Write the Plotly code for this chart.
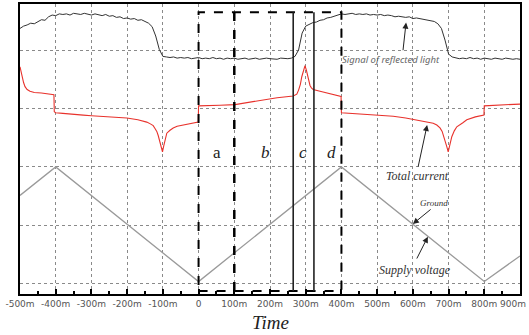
import plotly.graph_objects as go

# ---------------- data ----------------
tick_vals = [-500, -400, -300, -200, -100, 0, 100, 200, 300, 400, 500, 600, 700, 800, 900]
tick_text = ["-500m", "-400m", "-300m", "-200m", "-100m", "0", "100m", "200m", "300m",
             "400m", "500m", "600m", "700m", "800m", "900m"]

signal_x = list(range(-500, 910, 10))
signal_y = [4.38, 4.42, 4.44, 4.47, 4.46, 4.50, 4.53, 4.52, 4.58, 4.61,
            4.60, 4.63, 4.62, 4.63, 4.61, 4.64, 4.63, 4.62, 4.64, 4.63,
            4.61, 4.63, 4.62, 4.60, 4.62, 4.59, 4.60, 4.57, 4.58, 4.55,
            4.56, 4.54, 4.55, 4.52, 4.53, 4.50, 4.47, 4.41, 4.25, 4.02,
            3.90, 3.89, 3.88, 3.89, 3.87, 3.88, 3.87, 3.88, 3.86, 3.87,
            3.88, 3.86, 3.87, 3.86, 3.88, 3.86, 3.87, 3.85, 3.87, 3.86,
            3.87, 3.85, 3.86, 3.87, 3.85, 3.86, 3.87, 3.85, 3.86, 3.87,
            3.86, 3.86, 3.85, 3.87, 3.86, 3.86, 3.87, 3.90, 4.01, 4.30,
            4.42, 4.45, 4.48, 4.49, 4.52, 4.53, 4.56, 4.57, 4.59, 4.61,
            4.63, 4.62, 4.63, 4.64, 4.62, 4.63, 4.62, 4.63, 4.61, 4.62,
            4.61, 4.62, 4.60, 4.61, 4.60, 4.58, 4.59, 4.58, 4.57, 4.58,
            4.55, 4.56, 4.55, 4.54, 4.53, 4.52, 4.50, 4.46, 4.38, 4.18,
            3.94, 3.89, 3.88, 3.86, 3.87, 3.86, 3.88, 3.86, 3.87, 3.85,
            3.87, 3.86, 3.85, 3.87, 3.86, 3.85, 3.87, 3.86, 3.85, 3.86,
            3.85]

current_x = [-500, -495, -490, -486, -480, -472, -460, -440, -420, -405, -404, -400, -380, -350,
             -323, -300, -250, -201, -170, -145, -135, -127, -122, -117, -113, -110, -107, -104,
             -101, -98, -94, -89, -80, -71, -60, -43, -25, -5, -1, 0, 30, 60, 102, 140, 172, 220,
             265, 275, 280, 285, 289, 294, 298, 302, 305, 308, 312, 316, 321, 340, 359, 380, 394,
             399, 400, 430, 452, 500, 545, 580, 620, 640, 657, 667, 676, 682, 687, 691, 695, 699,
             703, 709, 716, 723, 740, 751, 775, 796, 799, 800, 850, 900]
current_y = [3.72, 3.55, 3.45, 3.38, 3.33, 3.30, 3.28, 3.27, 3.25, 3.24, 2.95, 2.93, 2.92, 2.91,
             2.89, 2.88, 2.86, 2.84, 2.81, 2.77, 2.74, 2.71, 2.66, 2.61, 2.54, 2.47, 2.40, 2.33,
             2.26, 2.35, 2.48, 2.58, 2.63, 2.67, 2.70, 2.72, 2.75, 2.77, 2.77, 3.05, 3.06, 3.06,
             3.07, 3.11, 3.15, 3.19, 3.22, 3.25, 3.32, 3.42, 3.55, 3.66, 3.74, 3.66, 3.58, 3.47,
             3.40, 3.36, 3.33, 3.30, 3.27, 3.24, 3.21, 3.21, 2.93, 2.92, 2.91, 2.89, 2.87, 2.84,
             2.80, 2.78, 2.75, 2.72, 2.67, 2.61, 2.52, 2.43, 2.35, 2.26, 2.38, 2.52, 2.62, 2.69,
             2.76, 2.81, 2.86, 2.89, 2.89, 3.05, 3.07, 3.08]

voltage_x = [-500, -400, 0, 400, 800, 900]
voltage_y = [1.51, 2.0, 0.03, 2.0, 0.03, 0.47]

region_edges = [0, 100, 265, 323, 400]
region_labels = ["a", "b", "c", "d"]
region_label_x = [52, 188, 292, 373]

# ---------------- figure ----------------
fig = go.Figure()
fig.add_trace(go.Scatter(x=voltage_x, y=voltage_y, mode="lines",
                         line=dict(color="#9a9a9a", width=1.3), hoverinfo="skip"))
fig.add_trace(go.Scatter(x=current_x, y=current_y, mode="lines",
                         line=dict(color="#e8322c", width=1.1), hoverinfo="skip"))
fig.add_trace(go.Scatter(x=signal_x, y=signal_y, mode="lines",
                         line=dict(color="#333333", width=1), hoverinfo="skip"))

y_top, y_bot = 4.657, -0.132
fig.add_shape(type="rect", x0=region_edges[0], x1=region_edges[-1], y0=y_bot, y1=y_top,
              line=dict(color="black", width=2, dash="dash"))
fig.add_shape(type="line", x0=region_edges[1], x1=region_edges[1], y0=y_bot, y1=y_top,
              line=dict(color="black", width=2.5, dash="dash"))
for xe in region_edges[2:4]:
    fig.add_shape(type="line", x0=xe, x1=xe, y0=y_bot, y1=y_top,
                  line=dict(color="#222222", width=1.6))

serif = "Liberation Serif"
for lbl, lx in zip(region_labels, region_label_x):
    txt = lbl if lbl == "a" else "<i>" + lbl + "</i>"
    fig.add_annotation(x=lx, y=2.24, text=txt, showarrow=False,
                       font=dict(family=serif, size=17, color="#222"))

fig.add_annotation(x=540, y=3.84, text="<i>Signal of reflected light</i>", showarrow=False,
                   font=dict(family="Noto Sans", size=9.5, color="#666"))
fig.add_annotation(x=613, y=1.845, text="<i>Total current</i>", showarrow=False,
                   font=dict(family=serif, size=12, color="#333"))
fig.add_annotation(x=659, y=1.38, text="<i>Ground</i>", showarrow=False,
                   font=dict(family=serif, size=9, color="#333"))
fig.add_annotation(x=607, y=0.23, text="<i>Supply voltage</i>", showarrow=False,
                   font=dict(family=serif, size=12, color="#333"))

arrows = [(581, 4.48, 572, 3.98), (640, 2.72, 614, 1.98),
          (600, 1.02, 654, 1.29), (642, 0.80, 609, 0.40)]
for hx, hy, tx, ty in arrows:
    fig.add_annotation(x=hx, y=hy, ax=tx, ay=ty, xref="x", yref="y", axref="x", ayref="y",
                       text="", showarrow=True, arrowhead=2, arrowsize=1.2,
                       arrowwidth=1, arrowcolor="#222")

tick_font = dict(family="DejaVu Sans", size=9, color="#555")
# last tick label sits against the right edge of the page (plotly would hide it)
fig.add_annotation(x=1.016, y=-0.0345, xref="paper", yref="paper", text=tick_text[-1],
                   showarrow=False, xanchor="right", yanchor="middle", font=tick_font)

fig.add_annotation(x=0.5, y=-0.097, xref="paper", yref="paper", text="<i>Time</i>",
                   showarrow=False, yanchor="middle",
                   font=dict(family=serif, size=19, color="#222"))

fig.update_layout(
    width=529, height=335,
    margin=dict(l=20, r=9, t=4, b=41),
    paper_bgcolor="white", plot_bgcolor="white",
    showlegend=False,
    xaxis=dict(range=[-500, 900], tickvals=tick_vals[:-1], ticktext=tick_text[:-1],
               automargin=False,
               showgrid=True, gridcolor="#8a8a8a", griddash="dot", gridwidth=1,
               zeroline=False, showline=True, linecolor="black", linewidth=2, mirror=True,
               ticks="inside", ticklen=5, tickcolor="black", tickwidth=1.5,
               minor=dict(dtick=50, ticks="inside", ticklen=3, tickcolor="black", showgrid=False),
               tickfont=tick_font),
    yaxis=dict(range=[-0.184, 4.80], tickvals=[0, 1, 2, 3, 4], showticklabels=False,
               automargin=False,
               showgrid=True, gridcolor="#8a8a8a", griddash="dot", gridwidth=1,
               zeroline=False, showline=True, linecolor="black", linewidth=1.8, mirror=True,
               ticks=""),
)

fig.write_html("out.html", config={"displayModeBar": False},
               post_script="document.body.style.margin='0';document.body.style.padding='0';"
                           "document.documentElement.style.overflow='hidden';")
